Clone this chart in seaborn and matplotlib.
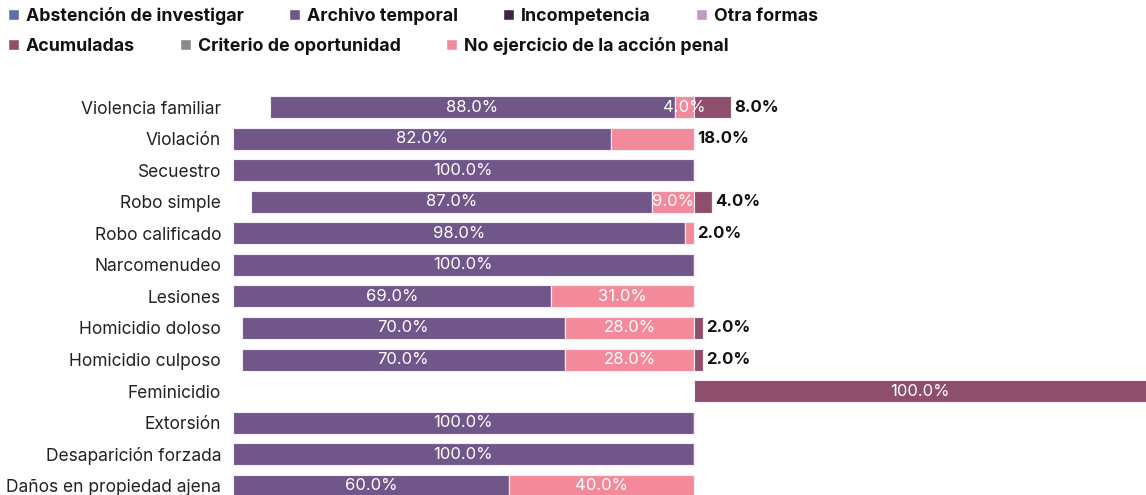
import numpy as np
import matplotlib.pyplot as plt
from matplotlib.patches import Patch
import seaborn as sns

delitos = ["Violencia familiar", "Violación", "Secuestro", "Robo simple",
           "Robo calificado", "Narcomenudeo", "Lesiones", "Homicidio doloso",
           "Homicidio culposo", "Feminicidio", "Extorsión",
           "Desaparición forzada", "Daños en propiedad ajena"]

abstencion = [0, 0, 0, 0, 0, 0, 0, 0, 0, 0, 0, 0, 0]
archivo = [88, 82, 100, 87, 98, 100, 69, 70, 70, 0, 100, 100, 60]
incompetencia = [0, 0, 0, 0, 0, 0, 0, 0, 0, 0, 0, 0, 0]
otra = [0, 0, 0, 0, 0, 0, 0, 0, 0, 0, 0, 0, 0]
acumuladas = [8, 0, 0, 4, 0, 0, 0, 2, 2, 100, 0, 0, 0]
criterio = [0, 0, 0, 0, 0, 0, 0, 0, 0, 0, 0, 0, 0]
no_ejercicio = [4, 18, 0, 9, 2, 0, 31, 28, 28, 0, 0, 0, 40]

colores = {
    "Abstención de investigar": "#5f6ea6",
    "Archivo temporal": "#715689",
    "Incompetencia": "#3d2544",
    "Otra formas": "#c29ac4",
    "Acumuladas": "#8d4f6c",
    "Criterio de oportunidad": "#8b8b8e",
    "No ejercicio de la acción penal": "#f38a9c",
}

# left of the center line (outer -> inner), right of it (inner -> outer)
izquierda = [("Abstención de investigar", abstencion), ("Archivo temporal", archivo),
             ("Incompetencia", incompetencia), ("Criterio de oportunidad", criterio),
             ("No ejercicio de la acción penal", no_ejercicio)]
derecha = [("Acumuladas", acumuladas), ("Otra formas", otra)]

sns.set_theme(style="white")
plt.rcParams["font.family"] = ["Inter", "DejaVu Sans"]

W, H = 1146, 495
fig = plt.figure(figsize=(W / 100, H / 100), dpi=100)
ax = fig.add_axes([228 / W, 0, 1 - 228 / W, 1 - 91 / H])

XMIN, XMAX = -101, 98
y = np.arange(len(delitos))
alto = 0.7

segmentos = []
tot_izq = np.array([sum(s[i] for _, s in izquierda) for i in range(len(delitos))])
inicio = -tot_izq.astype(float)
for nombre, serie in izquierda:
    v = np.array(serie, dtype=float)
    ax.barh(y, v, left=inicio, height=alto, color=colores[nombre],
            edgecolor="#f4eef6", linewidth=0.8)
    for i in range(len(delitos)):
        if v[i] > 0:
            segmentos.append((i, inicio[i], v[i]))
    inicio = inicio + v
inicio = np.zeros(len(delitos))
for nombre, serie in derecha:
    v = np.array(serie, dtype=float)
    ax.barh(y, v, left=inicio, height=alto, color=colores[nombre],
            edgecolor="#f4eef6", linewidth=0.8)
    for i in range(len(delitos)):
        if v[i] > 0:
            segmentos.append((i, inicio[i], v[i]))
    inicio = inicio + v

# labels: last segment of a row goes outside when it is small
ultimo = {}
for s in segmentos:
    i, x0, v = s
    if i not in ultimo or x0 + v > ultimo[i][1] + ultimo[i][2]:
        ultimo[i] = s
for s in segmentos:
    i, x0, v = s
    fin = x0 + v
    if ultimo[i] == s and v < 20:
        ax.text(fin + 0.7, i, f"{v:.1f}%", ha="left", va="center",
                fontsize=12, fontweight="bold", color="#111111")
    else:
        cx = (x0 + min(fin, XMAX)) / 2
        ax.text(cx, i, f"{v:.1f}%", ha="center", va="center",
                fontsize=12, color="white")

ax.set_xlim(XMIN, XMAX)
ax.set_ylim(12.29, -0.507)
ax.set_yticks(y)
ax.set_yticklabels(delitos, fontsize=12.5, color="#222222")
ax.tick_params(axis="y", length=0, pad=5)
ax.set_xticks([])
for sp in ax.spines.values():
    sp.set_visible(False)

def fila(nombres, ypos):
    handles = [Patch(facecolor=colores[n], label=n) for n in nombres]
    leg = fig.legend(handles=handles, loc="center left",
                     bbox_to_anchor=(8 / W, 1 - ypos / H), ncol=len(nombres),
                     frameon=False, handlelength=0.6, handleheight=0.6,
                     handletextpad=0.4, columnspacing=2.55, borderpad=0,
                     borderaxespad=0, prop={"weight": "bold", "size": 12.8})
    for t in leg.get_texts():
        t.set_color("#111111")
    return leg

fila(["Abstención de investigar", "Archivo temporal", "Incompetencia", "Otra formas"], 16)
fila(["Acumuladas", "Criterio de oportunidad", "No ejercicio de la acción penal"], 46)

fig.savefig("out.png", dpi=100)
